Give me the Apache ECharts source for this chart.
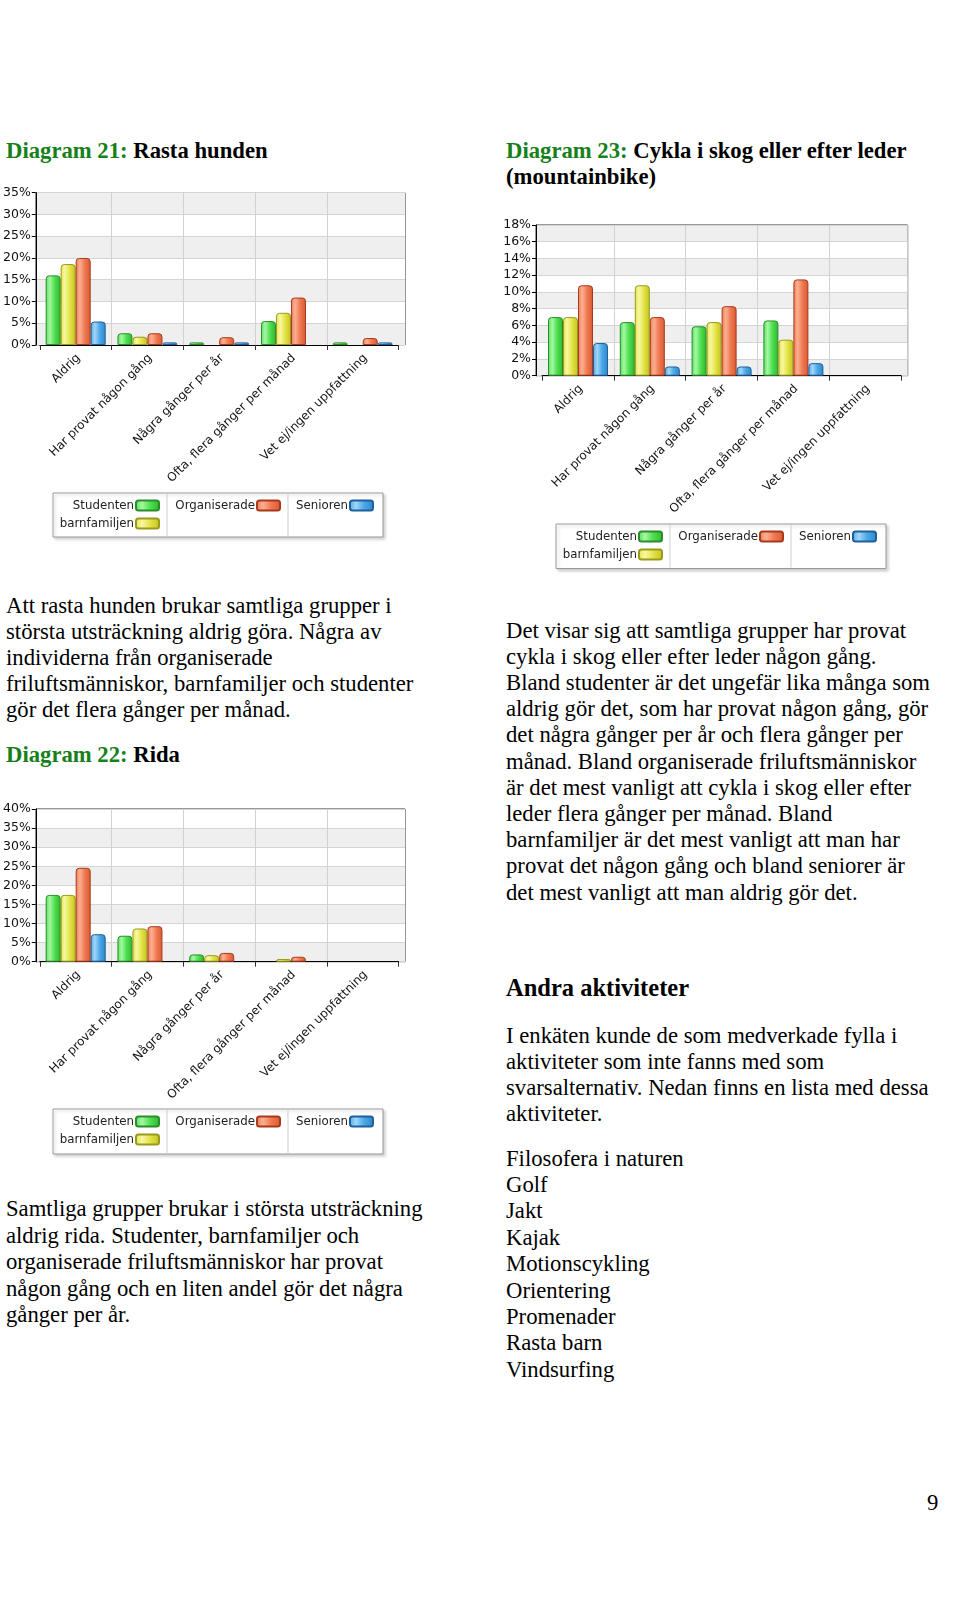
<!DOCTYPE html>
<html><head><meta charset="utf-8">
<script src="https://cdn.jsdelivr.net/npm/echarts@6/dist/echarts.min.js"></script>
<style>
html,body{margin:0;padding:0;background:#fff;}
body{width:960px;height:1606px;position:relative;overflow:hidden;font-family:"Liberation Serif","Times New Roman",serif;color:#000;}
.t{position:absolute;font-size:22.7px;line-height:26.2px;white-space:nowrap;}
.h{font-weight:bold;}
.g{color:#16801a;}
.c{position:absolute;}
</style></head><body>

<div class="t h" style="left:6px;top:137.5px"><span class="g">Diagram 21:</span> Rasta hunden</div>
<div class="t h" style="left:506px;top:137.5px;line-height:26.7px"><span class="g">Diagram 23:</span> Cykla i skog eller efter leder<br>(mountainbike)</div>

<div class="t" style="left:6px;top:592.5px">Att rasta hunden brukar samtliga grupper i<br>största utsträckning aldrig göra. Några av<br>individerna från organiserade<br>friluftsmänniskor, barnfamiljer och studenter<br>gör det flera gånger per månad.</div>
<div class="t h" style="left:6px;top:742px"><span class="g">Diagram 22:</span> Rida</div>

<div class="t" style="left:506px;top:617.5px">Det visar sig att samtliga grupper har provat<br>cykla i skog eller efter leder någon gång.<br>Bland studenter är det ungefär lika många som<br>aldrig gör det, som har provat någon gång, gör<br>det några gånger per år och flera gånger per<br>månad. Bland organiserade friluftsmänniskor<br>är det mest vanligt att cykla i skog eller efter<br>leder flera gånger per månad. Bland<br>barnfamiljer är det mest vanligt att man har<br>provat det någon gång och bland seniorer är<br>det mest vanligt att man aldrig gör det.</div>

<div class="t h" style="left:506px;top:974px;font-size:24.5px;line-height:28px">Andra aktiviteter</div>
<div class="t" style="left:506px;top:1022.5px">I enkäten kunde de som medverkade fylla i<br>aktiviteter som inte fanns med som<br>svarsalternativ. Nedan finns en lista med dessa<br>aktiviteter.</div>
<div class="t" style="left:506px;top:1145.5px;line-height:26.4px" id="list"></div>

<div class="t" style="left:6px;top:1196px;line-height:26.6px">Samtliga grupper brukar i största utsträckning<br>aldrig rida. Studenter, barnfamiljer och<br>organiserade friluftsmänniskor har provat<br>någon gång och en liten andel gör det några<br>gånger per år.</div>

<div class="t" style="left:927px;top:1490px">9</div>

<div class="c" id="c21" style="left:0;top:180px;width:480px;height:375px"></div>
<div class="c" id="c23" style="left:480px;top:200px;width:480px;height:380px"></div>
<div class="c" id="c22" style="left:0;top:790px;width:480px;height:380px"></div>

<script>
// ---- data ----
const categories = ['Aldrig', 'Har provat någon gång', 'Några gånger per år', 'Ofta, flera gånger per månad', 'Vet ej/ingen uppfattning'];
const seriesNames = ['Studenten', 'barnfamiljen', 'Organiserade', 'Senioren'];

// Diagram 21: Rasta hunden (%)
const rastaStudenten    = [16.0, 2.7, 0.6, 5.5, 0.6];
const rastaBarnfamiljen = [18.6, 1.9, 0,   7.4, 0];
const rastaOrganiserade = [20.0, 2.7, 1.8, 10.9, 1.6];
const rastaSenioren     = [5.4,  0.6, 0.6, 0,   0.6];
const rastaYTicks = [0, 5, 10, 15, 20, 25, 30, 35];

// Diagram 22: Rida (%)
const ridaStudenten    = [17.5, 6.8, 1.9, 0,   0];
const ridaBarnfamiljen = [17.5, 8.7, 1.7, 0.7, 0];
const ridaOrganiserade = [24.6, 9.3, 2.3, 1.3, 0];
const ridaSenioren     = [7.2,  0,   0,   0,   0];
const ridaYTicks = [0, 5, 10, 15, 20, 25, 30, 35, 40];

// Diagram 23: Cykla i skog eller efter leder (%)
const cyklaStudenten    = [7.0,  6.4,  5.9, 6.6,  0];
const cyklaBarnfamiljen = [7.0,  10.8, 6.4, 4.3,  0];
const cyklaOrganiserade = [10.8, 7.0,  8.3, 11.5, 0];
const cyklaSenioren     = [3.9,  1.1,  1.1, 1.5,  0];
const cyklaYTicks = [0, 2, 4, 6, 8, 10, 12, 14, 16, 18];

const otherActivities = ['Filosofera i naturen', 'Golf', 'Jakt', 'Kajak', 'Motionscykling', 'Orientering', 'Promenader', 'Rasta barn', 'Vindsurfing'];

document.getElementById('list').innerHTML = otherActivities.join('<br>');

// ---- styles ----
const palette = [
  {base: '#4fe04f', light: '#a6f7a6', dark: '#2fb52f', border: '#2a8d2a'},
  {base: '#e4e448', light: '#f7f7a2', dark: '#c2c21e', border: '#99991c'},
  {base: '#f07a52', light: '#fab092', dark: '#d65a32', border: '#a8391a'},
  {base: '#4ba8e8', light: '#a2d6f8', dark: '#2e86c6', border: '#1f5f9e'}
];
function grad(p) {
  return new echarts.graphic.LinearGradient(0, 0, 1, 0, [
    {offset: 0, color: p.base},
    {offset: 0.28, color: p.light},
    {offset: 0.6, color: p.base},
    {offset: 1, color: p.dark}
  ]);
}
const FONT = 'DejaVu Sans, Verdana, sans-serif';
const FS = 11.5;

function build(el, data, yTicks, g) {
  const chart = echarts.init(document.getElementById(el), null, {renderer: 'canvas'});
  const ymin = yTicks[0], ymax = yTicks[yTicks.length - 1], yint = yTicks[1] - yTicks[0];
  const series = data.map((arr, i) => ({
    name: seriesNames[i],
    type: 'bar',
    xAxisIndex: 1, yAxisIndex: 1,
    barWidth: 15,
    barGap: '0%',
    data: arr.map(v => v === 0 ? null : v),
    itemStyle: {color: grad(palette[i]), borderColor: palette[i].border, borderWidth: 1, borderRadius: [3, 3, 0, 0]},
    emphasis: {disabled: true},
    animation: false
  }));
  const b = g.box;
  const colRight = [107, 107, 228, 321];
  const rowC = [12.5, 30.5, 12.5, 12.5];
  const legends = seriesNames.map((n, i) => ({
    data: [n],
    right: g.w - (b.x + colRight[i]),
    top: b.y + rowC[i] - 8,
    orient: 'horizontal',
    align: 'right',
    padding: 0,
    itemGap: 0,
    itemWidth: 23,
    itemHeight: 10,
    icon: 'roundRect',
    selectedMode: false,
    textStyle: {fontFamily: FONT, fontSize: 11.8, color: '#222', lineHeight: 16, padding: [0, -3, 0, 0]}
  }));
  chart.setOption({
    animation: false,
    grid: [
      {left: g.fx, top: g.top, width: g.fw, height: g.h, show: true, borderColor: '#333', borderWidth: 1, backgroundColor: 'transparent'},
      {left: g.ix, top: g.top, width: g.iw, height: g.h}
    ],
    xAxis: [
      {gridIndex: 0, type: 'value', min: 0, max: 1, show: false},
      {gridIndex: 1, type: 'category', data: categories,
        axisLine: {show: true, lineStyle: {color: '#000', width: 1}},
        axisTick: {show: true, length: 5, lineStyle: {color: '#333'}},
        splitLine: {show: true, showMinLine: false, showMaxLine: false, lineStyle: {color: '#d2d2d2', width: 1}},
        axisLabel: {interval: 0, rotate: 45, margin: 14, padding: [0, -4, 0, 0], fontFamily: FONT, fontSize: 12, color: '#111'}
      }
    ],
    yAxis: [
      {gridIndex: 0, type: 'value', min: ymin, max: ymax, interval: yint,
        axisLine: {show: true, lineStyle: {color: '#000'}},
        axisTick: {show: true, length: 4, lineStyle: {color: '#000'}},
        axisLabel: {formatter: '{value}%', margin: 5, fontFamily: FONT, fontSize: 12.5, color: '#111'},
        splitLine: {show: true, lineStyle: {color: '#d4d4d4'}},
        splitArea: {show: true, areaStyle: {color: ['#efefef', '#ffffff']}}
      },
      {gridIndex: 1, type: 'value', min: ymin, max: ymax, interval: yint, show: false}
    ],
    legend: legends,
    graphic: [
      {type: 'rect', z: 1, shape: {x: b.x, y: b.y, width: 330, height: b.h},
        style: {fill: '#fff', stroke: '#9a9a9a', lineWidth: 1, shadowBlur: 3, shadowOffsetX: 2, shadowOffsetY: 2, shadowColor: 'rgba(0,0,0,0.18)'}},
      {type: 'line', z: 2, shape: {x1: b.x + 114, y1: b.y + 1, x2: b.x + 114, y2: b.y + b.h - 1}, style: {stroke: '#cfcfcf', lineWidth: 1}},
      {type: 'line', z: 2, shape: {x1: b.x + 235, y1: b.y + 1, x2: b.x + 235, y2: b.y + b.h - 1}, style: {stroke: '#cfcfcf', lineWidth: 1}}
    ],
    series: series
  });
}

build('c21', [rastaStudenten, rastaBarnfamiljen, rastaOrganiserade, rastaSenioren], rastaYTicks,
  {w: 480, fx: 33, fw: 372, ix: 39.8, iw: 358.8, top: 12.7, h: 152.3, box: {x: 53, y: 313, h: 44}});
build('c23', [cyklaStudenten, cyklaBarnfamiljen, cyklaOrganiserade, cyklaSenioren], cyklaYTicks,
  {w: 480, fx: 56, fw: 371.7, ix: 62.1, iw: 359, top: 25, h: 150.7, box: {x: 76, y: 324, h: 44.5}});
build('c22', [ridaStudenten, ridaBarnfamiljen, ridaOrganiserade, ridaSenioren], ridaYTicks,
  {w: 480, fx: 33.3, fw: 371.7, ix: 39.8, iw: 358.8, top: 19, h: 152.7, box: {x: 53, y: 319, h: 45}});
</script>
</body></html>
